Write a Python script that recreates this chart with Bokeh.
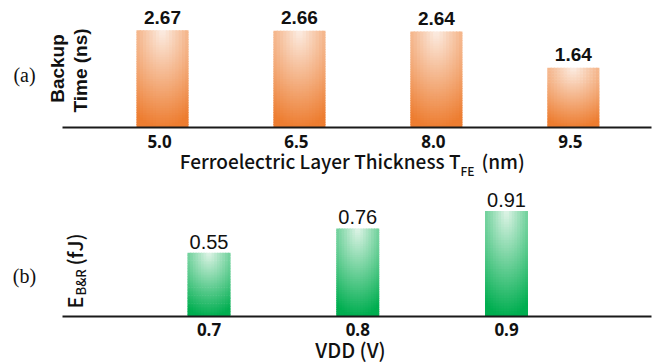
import math
from bokeh.plotting import figure
from bokeh.layouts import column
from bokeh.models import Range1d, Label, ColumnDataSource
from bokeh.core.properties import value
from bokeh.embed import file_html
from bokeh.resources import INLINE

# ---------------- data ----------------
thickness = [5.0, 6.5, 8.0, 9.5]          # nm
backup_time = [2.67, 2.66, 2.64, 1.64]    # ns
vdd = [0.7, 0.8, 0.9]                      # V
energy = [0.55, 0.76, 0.91]                # fJ

# ---------------- layout constants ----------------
W = 662
FRAME_L, FRAME_R = 62, 651
TOP_H, BOT_H = 180, 184
TOP_AXIS_Y, BOT_AXIS_Y = 127, 316          # global pixel rows of the axis lines

# top panel scales (pixels per data unit)
T_XPPU, T_YPPU = 91.3, 36.4
T_XREF = 162            # pixel column of the first thickness
# bottom panel scales
B_XPPU, B_YPPU = 1487.5, 115.8
B_XREF = 208.5          # pixel column of the first vdd


def tx(px):
    return thickness[0] + (px - T_XREF) / T_XPPU


def ty(py):
    return (TOP_AXIS_Y - py) / T_YPPU


def bx(px):
    return vdd[0] + (px - B_XREF) / B_XPPU


def by(py):  # global page row
    return (BOT_AXIS_Y - py) / B_YPPU


def mix(c0, c1, f):
    f = max(0.0, min(1.0, f))
    return "#%02x%02x%02x" % tuple(int(round(a + (b - a) * f)) for a, b in zip(c0, c1))


def gradient_cells(xs, vals, width, light, dark, nx=16, ny=40):
    L, R, B, T, C = [], [], [], [], []
    for x, v in zip(xs, vals):
        x0 = x - width / 2
        dx = width / nx
        dy = v / ny
        for j in range(nx):
            u = (j + 0.5) / nx - 0.5
            for k in range(ny):
                t = 1 - (k + 0.5) / ny
                d = math.sqrt((u * 1.0) ** 2 + t ** 2)
                L.append(x0 + j * dx)
                R.append(min(x0 + (j + 1.4) * dx, x0 + width))
                B.append(k * dy)
                T.append(min((k + 1.4) * dy, v))
                C.append(mix(light, dark, d ** 0.95))
    return ColumnDataSource(dict(left=L, right=R, bottom=B, top=T, color=C))


def base_fig(h, xr, yr):
    p = figure(width=W, height=h, x_range=xr, y_range=yr,
               output_backend="svg", toolbar_location=None,
               min_border_left=0, min_border_right=0, min_border_top=0, min_border_bottom=0)
    p.outline_line_color = None
    p.background_fill_color = "white"
    p.border_fill_color = "white"
    p.xgrid.visible = False
    p.ygrid.visible = False
    p.xaxis.visible = False
    p.yaxis.visible = False
    return p


INK = "#111111"
AX_FONT = "Noto Sans CJK SC Medium, Noto Sans CJK SC, Noto Sans"
TICK_FONT = "Noto Sans"


def lab(p, x, y, text, font, size, angle=0.0, align="center", style="normal"):
    p.add_layout(Label(x=x, y=y, text=text, angle=angle, text_align=align,
                       text_baseline="middle", text_font=font, text_font_style=style,
                       text_font_size=size, text_color=INK))


# ---------------- top panel ----------------
p1 = base_fig(TOP_H, Range1d(tx(0), tx(W)), Range1d(ty(TOP_H), ty(0)))

src1 = gradient_cells(thickness, backup_time, 0.57, (252, 238, 229), (237, 125, 49))
p1.quad(left="left", right="right", bottom="bottom", top="top", fill_color="color",
        line_color=None, source=src1)
# x axis line
p1.line(x=[tx(FRAME_L), tx(FRAME_R)], y=[0, 0], line_width=2, line_color="#1a1a1a")
# tick labels
p1.text(x=thickness, y=[ty(141)] * len(thickness), text=["%.1f" % v for v in thickness],
        text_align="center", text_baseline="middle", x_offset=-3,
        text_font=value(TICK_FONT), text_font_style="bold", text_font_size="17px", text_color=INK)
# value labels
p1.text(x=thickness, y=[v + 13 / T_YPPU for v in backup_time], text=["%.2f" % v for v in backup_time],
        text_align="center", text_baseline="middle",
        text_font=value("Liberation Sans"), text_font_style="bold",
        text_font_size="19px", text_color=INK)

# y-axis title (two rotated lines) and panel tag
lab(p1, tx(57), ty(68), "Backup", "Liberation Sans", "19px", angle=math.pi / 2, style="bold")
lab(p1, tx(80), ty(70), "Time (ns)", "Liberation Sans", "19px", angle=math.pi / 2, style="bold")
lab(p1, tx(24), ty(74), "(a)", "Liberation Serif", "20px")
# x-axis title with subscript
lab(p1, tx(460), ty(160), "Ferroelectric Layer Thickness T", AX_FONT, "19px", align="right")
lab(p1, tx(460), ty(170), "FE", AX_FONT, "12px", align="left")
lab(p1, tx(481), ty(160), "(nm)", AX_FONT, "19px", align="left")

# ---------------- bottom panel ----------------
p2 = base_fig(BOT_H, Range1d(bx(0), bx(W)), Range1d(by(TOP_H + BOT_H), by(TOP_H)))

src2 = gradient_cells(vdd, energy, 0.0289, (226, 245, 233), (0, 174, 80))
p2.quad(left="left", right="right", bottom="bottom", top="top", fill_color="color",
        line_color=None, source=src2)
p2.line(x=[bx(FRAME_L), bx(FRAME_R)], y=[0, 0], line_width=2, line_color="#1a1a1a")
p2.text(x=vdd, y=[by(329)] * len(vdd), text=["%.1f" % v for v in vdd],
        text_align="center", text_baseline="middle",
        text_font=value(TICK_FONT), text_font_style="bold", text_font_size="17px", text_color=INK)
p2.text(x=vdd, y=[v + 11 / B_YPPU for v in energy], text=["%.2f" % v for v in energy],
        text_align="center", text_baseline="middle",
        text_font=value("Liberation Sans"), text_font_size="20px", text_color=INK)

# y-axis title E_{B&R} (fJ), rotated, built from pieces
lab(p2, bx(74), by(308), "E", AX_FONT, "20px", angle=math.pi / 2, align="left")
lab(p2, bx(80), by(295), "B&R", AX_FONT, "13px", angle=math.pi / 2, align="left")
lab(p2, bx(74), by(265), "(fJ)", AX_FONT, "20px", angle=math.pi / 2, align="left")
lab(p2, bx(24), by(275), "(b)", "Liberation Serif", "20px")
lab(p2, bx(350), by(349), "VDD (V)", AX_FONT, "20px")

layout = column(p1, p2, spacing=0)
open("out.html", "w").write(file_html(layout, INLINE))
